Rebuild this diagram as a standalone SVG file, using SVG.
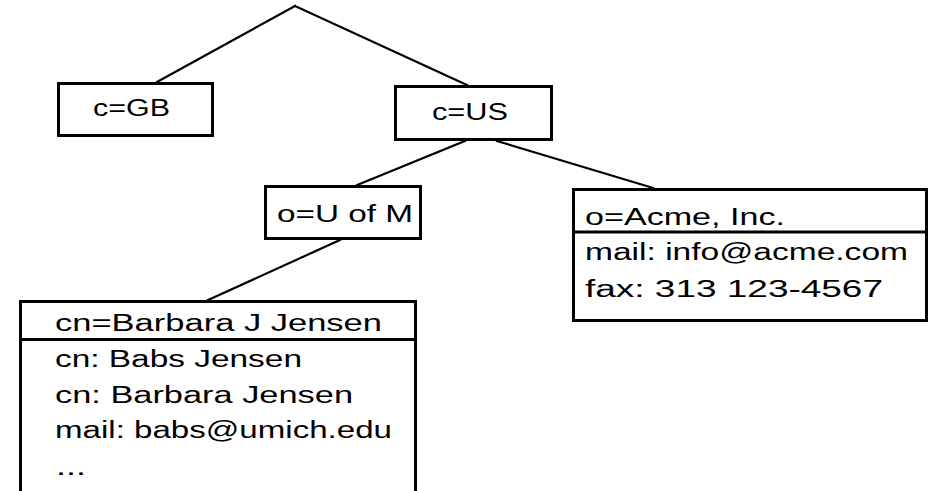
<svg xmlns="http://www.w3.org/2000/svg" width="934" height="491" viewBox="0 0 934 491">
<style>
.box{fill:#fff;stroke:#000;stroke-width:3}
.div{stroke:#000;stroke-width:3}
.t{font-family:"Liberation Sans",Arial,sans-serif;font-size:23px;fill:#000}
.conn line{stroke:#000;stroke-width:2.2;stroke-linecap:square}
</style>
<rect width="934" height="491" fill="#fff"/>
<g id="connectors" class="conn">
<line x1="295" y1="6" x2="157" y2="82"/>
<line x1="295" y1="6" x2="467" y2="85"/>
<line x1="465" y1="141" x2="357" y2="185"/>
<line x1="497" y1="141" x2="653" y2="188"/>
<line x1="340" y1="240" x2="208" y2="300"/>
</g>
<g id="gb">
<rect class="box" x="58.5" y="83.5" width="154" height="52"/>
<text class="t" x="93" y="116" textLength="77" lengthAdjust="spacingAndGlyphs">c=GB</text>
</g>
<g id="us">
<rect class="box" x="395.5" y="86.5" width="156" height="53"/>
<text class="t" x="432" y="120" textLength="76" lengthAdjust="spacingAndGlyphs">c=US</text>
</g>
<g id="uofm">
<rect class="box" x="265.5" y="186.5" width="155" height="52"/>
<text class="t" x="277" y="222" textLength="136" lengthAdjust="spacingAndGlyphs">o=U of M</text>
</g>
<g id="acme">
<rect class="box" x="573.5" y="189.5" width="353" height="131"/>
<line class="div" x1="573.5" y1="232" x2="926.5" y2="232"/>
<text class="t" x="585" y="225" textLength="200" lengthAdjust="spacingAndGlyphs">o=Acme, Inc.</text>
<text class="t" x="585" y="260" textLength="323" lengthAdjust="spacingAndGlyphs">mail: info@acme.com</text>
<text class="t" x="585" y="297" textLength="298" lengthAdjust="spacingAndGlyphs">fax: 313 123-4567</text>
</g>
<g id="barbara">
<rect class="box" x="20.5" y="301.5" width="395" height="210"/>
<line class="div" x1="20.5" y1="339.5" x2="415.5" y2="339.5"/>
<text class="t" x="55" y="331" textLength="327" lengthAdjust="spacingAndGlyphs">cn=Barbara J Jensen</text>
<text class="t" x="55" y="367" textLength="247" lengthAdjust="spacingAndGlyphs">cn: Babs Jensen</text>
<text class="t" x="55" y="403" textLength="298" lengthAdjust="spacingAndGlyphs">cn: Barbara Jensen</text>
<text class="t" x="55" y="438" textLength="337" lengthAdjust="spacingAndGlyphs">mail: babs@umich.edu</text>
<text class="t" x="56" y="475" textLength="30" lengthAdjust="spacingAndGlyphs">...</text>
</g>
</svg>
